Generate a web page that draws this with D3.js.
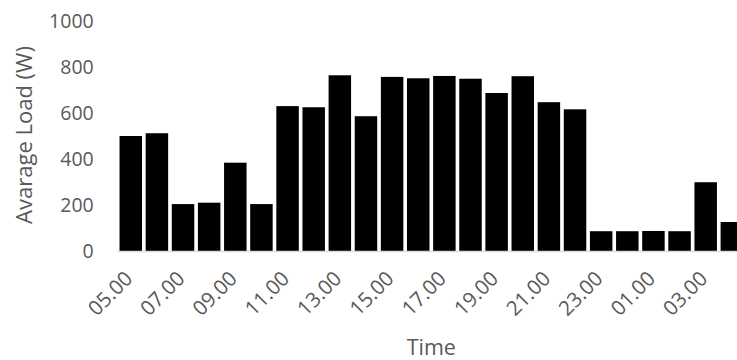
<!DOCTYPE html>
<html><head><meta charset="utf-8">
<script src="https://cdn.jsdelivr.net/npm/d3@7"></script>
<style>body{margin:0;background:#fff}svg{display:block}</style>
</head><body>
<svg id="c" width="737" height="360"></svg>
<script>
const hours = ["05.00","06.00","07.00","08.00","09.00","10.00","11.00","12.00","13.00","14.00","15.00","16.00","17.00","18.00","19.00","20.00","21.00","22.00","23.00","00.00","01.00","02.00","03.00","04.00"];
const load = [500,512,204,210,384,204,630,625,764,586,757,751,761,749,687,760,647,616,86,86,87,86,299,126];
const yTicks = [0,200,400,600,800,1000];
const shownLabels = ["05.00","07.00","09.00","11.00","13.00","15.00","17.00","19.00","21.00","23.00","01.00","03.00"];

const svg = d3.select("#c");
const font = "'Open Sans', sans-serif";
const m = {left:117.7, top:21, bottom:251, right:744.9};
const x = d3.scaleBand().domain(hours).range([m.left, m.right]).paddingInner(0.14).paddingOuter(0.07);
const y = d3.scaleLinear().domain([0,1000]).range([m.bottom, m.top]);

svg.append("g").selectAll("rect").data(load).join("rect")
  .attr("x",(d,i)=>x(hours[i])).attr("width",x.bandwidth())
  .attr("y",d=>y(d)).attr("height",d=>y(0)-y(d))
  .attr("fill","#000");

svg.append("line").attr("x1",m.left).attr("x2",m.right).attr("y1",y(0)+0.5).attr("y2",y(0)+0.5)
  .attr("stroke","#d9d9d9").attr("stroke-width",1.5);

const ya = svg.append("g").attr("transform",`translate(${m.left},0)`)
  .call(d3.axisLeft(y).tickValues(yTicks).tickSize(0).tickPadding(24).tickFormat(d3.format("d")));
ya.select(".domain").remove();
ya.selectAll("text").attr("font-family",font).attr("font-size",19.5).attr("fill","#595959");

const xa = svg.append("g").attr("transform",`translate(0,${m.bottom})`)
  .call(d3.axisBottom(x).tickValues(shownLabels).tickSize(0).tickPadding(0));
xa.select(".domain").remove();
xa.selectAll("text").attr("font-family",font).attr("font-size",20.5).attr("fill","#595959")
  .attr("text-anchor","end").attr("dy",0).attr("y",0)
  .attr("transform","translate(3,29) rotate(-45)");

svg.append("text").attr("x",(m.left+m.right)/2).attr("y",355).attr("text-anchor","middle")
  .attr("font-family",font).attr("font-size",21.5).attr("fill","#595959").text("Time");

svg.append("text").attr("transform",`translate(32,135) rotate(-90)`)
  .attr("text-anchor","middle")
  .attr("font-family",font).attr("font-size",22).attr("fill","#595959").text("Avarage Load (W)");
</script>
</body></html>
